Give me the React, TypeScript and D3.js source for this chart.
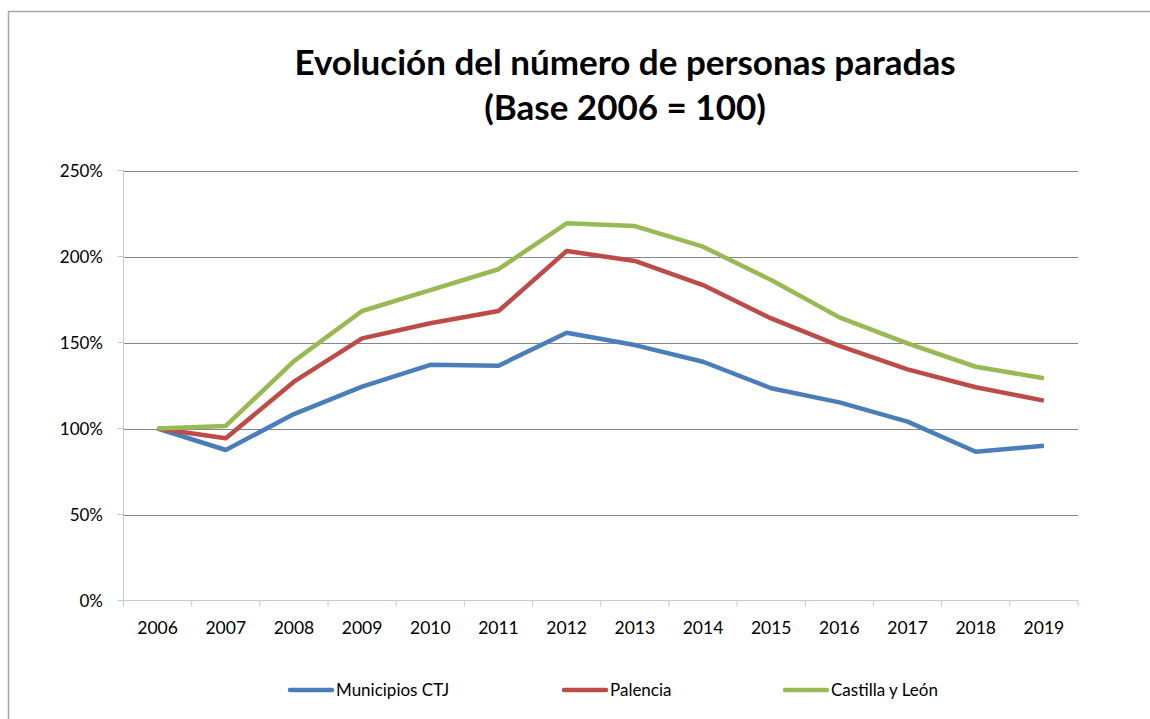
import React from "react";
import * as d3 from "d3";

const years = ["2006", "2007", "2008", "2009", "2010", "2011", "2012", "2013", "2014", "2015", "2016", "2017", "2018", "2019"];
const municipiosCTJ = [100, 87.5, 108.4, 124.3, 137, 136.5, 155.7, 148.5, 138.8, 123.4, 115.2, 104, 86.5, 90];
const palencia = [100, 94.3, 127.2, 152.4, 161.2, 168.3, 203.2, 197.4, 183.4, 164, 148, 134.4, 124, 116.2];
const castillaLeon = [100, 101.5, 139.2, 168.3, 180.5, 192.6, 219.3, 217.7, 205.7, 186.3, 164.6, 149.5, 135.9, 129.2];
const yTicks = [0, 50, 100, 150, 200, 250];
const titleLines = ["Evolución del número de personas paradas", "(Base 2006 = 100)"];

const series = [
  { name: "Municipios CTJ", values: municipiosCTJ, color: "#4A7EBB" },
  { name: "Palencia", values: palencia, color: "#BE4B48" },
  { name: "Castilla y León", values: castillaLeon, color: "#98B954" },
];

const W = 1150;
const H = 719;
const font = "Lato, 'Open Sans', sans-serif";

export default function App() {
  const left = 123.5;
  const right = 1078;
  const top = 170.5;
  const bottom = 600.5;

  const x = d3.scaleBand().domain(years).range([left, right]).padding(0);
  const y = d3.scaleLinear().domain([0, 250]).range([bottom, top]);

  const line = d3
    .line<number>()
    .x((d, i) => (x(years[i]) as number) + x.bandwidth() / 2)
    .y((d) => y(d));

  // legend layout (line starts)
  const legendX = [290, 564, 785];
  const legendY = 690;

  return (
    <svg
      width={W}
      height={H}
      style={{ position: "absolute", left: 0, top: 0, background: "#fff" }}
    >
      <rect x={8.5} y={11.5} width={1300} height={800} fill="#fff" stroke="#a6a6a6" strokeWidth={1.5} />

      {/* title */}
      <text textAnchor="middle" fontFamily={font} fontWeight={700} fontSize={35} fill="#000">
        {titleLines.map((t, i) => (
          <tspan key={i} x={625} y={75 + i * 45}>
            {t}
          </tspan>
        ))}
      </text>

      {/* gridlines */}
      {yTicks.filter((t) => t > 0).map((t) => (
        <line key={t} x1={left} x2={right} y1={Math.round(y(t)) + 0.5} y2={Math.round(y(t)) + 0.5} stroke="#868686" strokeWidth={1} />
      ))}

      {/* axes */}
      <line x1={left} x2={left} y1={top} y2={bottom} stroke="#B9CDE5" strokeWidth={1} />
      {yTicks.map((t) => (
        <g key={t}>
          <line x1={left - 6} x2={left} y1={y(t)} y2={y(t)} stroke="#B9CDE5" />
          <text x={103} y={y(t) + 6} textAnchor="end" fontFamily={font} fontSize={17} fill="#000">
            {t}%
          </text>
        </g>
      ))}
      <line x1={left} x2={right} y1={bottom} y2={bottom} stroke="#B9CDE5" strokeWidth={1} />
      {years.map((yr) => (
        <line key={"t" + yr} x1={x(yr)} x2={x(yr)} y1={bottom} y2={bottom + 6} stroke="#B9CDE5" />
      ))}
      <line x1={right} x2={right} y1={bottom} y2={bottom + 6} stroke="#B9CDE5" />
      {years.map((yr) => (
        <text
          key={yr}
          x={(x(yr) as number) + x.bandwidth() / 2}
          y={634}
          textAnchor="middle"
          fontFamily={font}
          fontSize={17.5}
          fill="#000"
        >
          {yr}
        </text>
      ))}

      {/* series */}
      {series.map((s) => (
        <path key={s.name} d={line(s.values) || ""} fill="none" stroke={s.color} strokeWidth={4.5} strokeLinejoin="round" />
      ))}

      {/* legend */}
      {series.map((s, i) => (
        <g key={s.name}>
          <line x1={legendX[i]} x2={legendX[i] + 42} y1={legendY} y2={legendY} stroke={s.color} strokeWidth={4.5} strokeLinecap="round" />
          <text x={legendX[i] + 46} y={legendY + 6} fontFamily={font} fontSize={17} fill="#000">
            {s.name}
          </text>
        </g>
      ))}
    </svg>
  );
}
